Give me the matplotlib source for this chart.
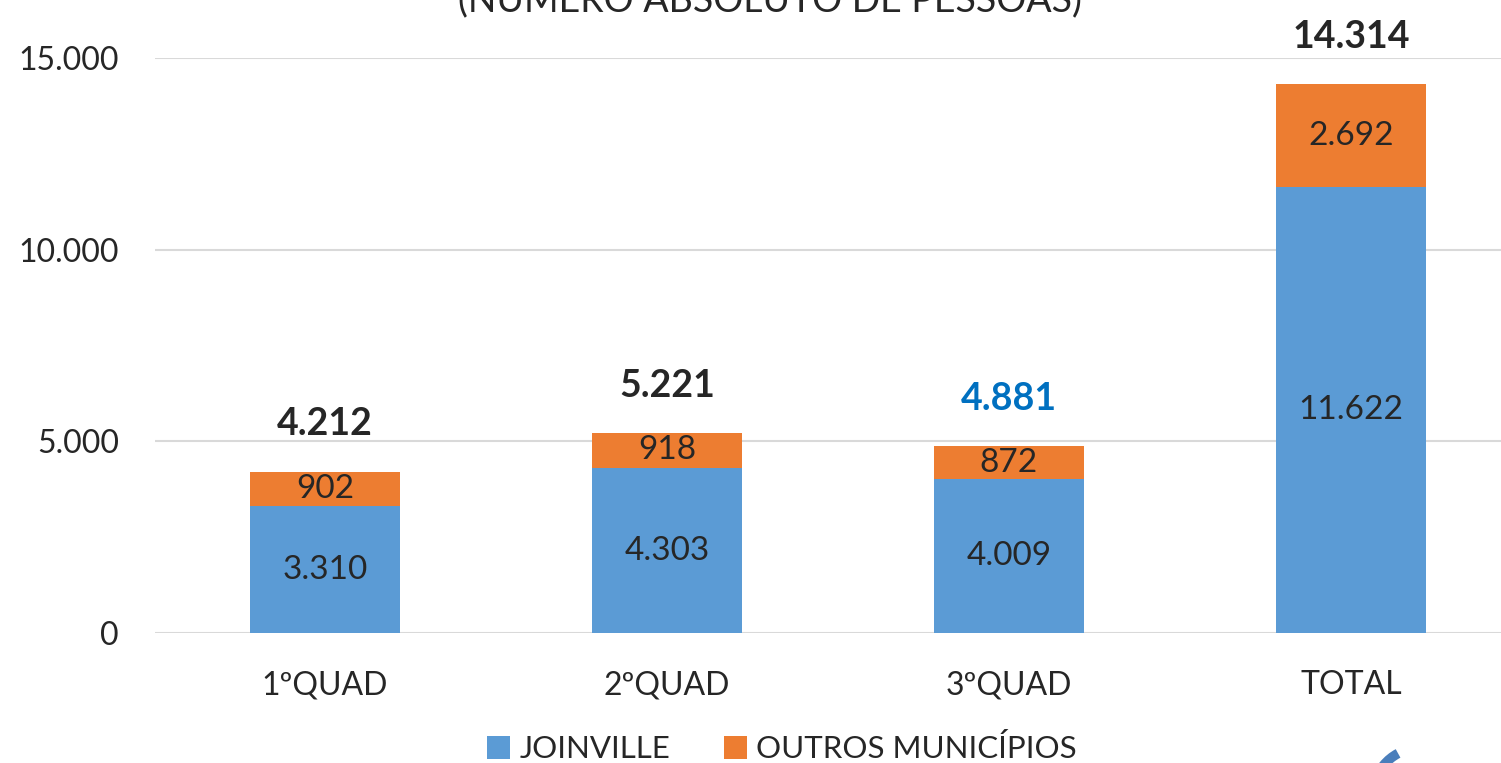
import matplotlib.pyplot as plt
import numpy as np
from matplotlib.patches import Arc

categorias = ['1ºQUAD', '2ºQUAD', '3ºQUAD', 'TOTAL']
joinville = [3310, 4303, 4009, 11622]
outros = [902, 918, 872, 2692]
totais = [a + b for a, b in zip(joinville, outros)]
cor_total = ['#262626', '#262626', '#0070C0', '#262626']
yticks = [0, 5000, 10000, 15000]

plt.rcParams['font.family'] = ['Lato', 'DejaVu Sans']

def fmt(v):
    return f'{v:,}'.replace(',', '.')

fig = plt.figure(figsize=(15.01, 7.63), dpi=100)
ax = fig.add_axes([155/1501, 130/763, 1346/1501, 575/763])

x = np.arange(len(categorias))
w = 0.4386
b1 = ax.bar(x, joinville, w, color='#5B9BD5', label='JOINVILLE', zorder=3)
b2 = ax.bar(x, outros, w, bottom=joinville, color='#ED7D31', label='OUTROS MUNICÍPIOS', zorder=3)

for i in range(len(x)):
    ax.text(x[i], joinville[i] / 2, fmt(joinville[i]), ha='center', va='center',
            fontsize=24, color='#262626', zorder=4)
    ax.text(x[i], joinville[i] + outros[i] / 2, fmt(outros[i]), ha='center', va='center',
            fontsize=24, color='#262626', zorder=4)
    ax.annotate(fmt(totais[i]), (x[i], totais[i]), xytext=(0, 34), textcoords='offset points',
                ha='center', va='center', fontsize=27, fontweight='bold',
                color=cor_total[i], annotation_clip=False)

ax.set_xlim(-0.497, 3.439)
ax.set_ylim(0, 15000)
ax.set_yticks(yticks)
ax.set_yticklabels([fmt(v) for v in yticks])
ax.set_xticks(x)
ax.set_xticklabels(categorias)
ax.tick_params(axis='both', length=0, labelsize=23, colors='#262626')
ax.tick_params(axis='x', pad=27)
ax.tick_params(axis='y', pad=26)
ax.grid(axis='y', color='#D9D9D9', linewidth=1.5, zorder=0)
for s in ax.spines.values():
    s.set_visible(False)

fig.text(770/1501, 1 - 12/763, '(NÚMERO ABSOLUTO DE PESSOAS)', ha='center', va='baseline',
         fontsize=27, color='#262626')

fig.legend(handles=[b1, b2], loc='center', bbox_to_anchor=(782/1501, 1 - 749/763),
           ncol=2, frameon=False, fontsize=22.5, handlelength=0.75, handleheight=0.75,
           handletextpad=0.3, columnspacing=1.7, labelcolor='#262626')

arc = Arc((1420/1501, -32/763), 94/1501, 94/763, theta1=105, theta2=150,
          transform=fig.transFigure, color='#4A7EBB', linewidth=7)
fig.add_artist(arc)

fig.savefig('out.png', dpi=100)
